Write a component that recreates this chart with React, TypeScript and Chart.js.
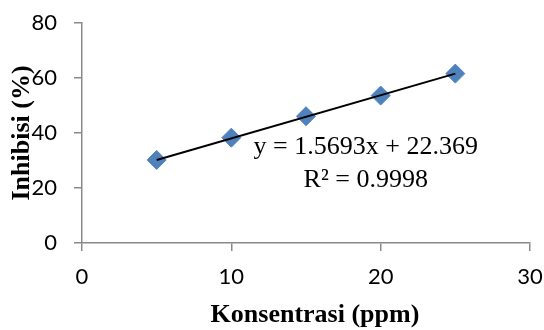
import React, { useEffect, useRef } from "react";
import { Chart, registerables } from "chart.js";

Chart.register(...registerables);

const concentrations = [5, 10, 15, 20, 25];
const inhibition = [30.2, 38.3, 46.1, 53.6, 61.6];
const trendX = [5, 25];
const trendY = [30.2, 61.6];
const equationText = "y = 1.5693x + 22.369";
const r2Text = "R² = 0.9998";
const xTitle = "Konsentrasi (ppm)";
const yTitle = "Inhibisi (%)";

const axisGray = "#898989";
const tickFont = { family: "Lato, 'Liberation Sans', sans-serif", size: 22 };
const titleFont = { family: "'Liberation Serif', 'Times New Roman', serif", size: 26, weight: "bold" as const };

const annotationPlugin = {
  id: "eqLabel",
  afterDatasetsDraw(chart: any) {
    const { ctx, scales } = chart;
    const xs = scales.x;
    const ys = scales.y;
    ctx.save();
    ctx.fillStyle = "#000";
    ctx.font = "26px 'Liberation Serif', 'Times New Roman', serif";
    ctx.textAlign = "center";
    ctx.textBaseline = "middle";
    ctx.fillText(equationText, xs.getPixelForValue(19.0), ys.getPixelForValue(34.9));
    ctx.fillText(r2Text, xs.getPixelForValue(19.0), ys.getPixelForValue(22.9));
    ctx.font = "bold 26px 'Liberation Serif', 'Times New Roman', serif";
    ctx.textBaseline = "alphabetic";
    ctx.fillText(xTitle, xs.getPixelForValue(15.6), chart.height - 8);
    ctx.restore();
  },
};

const zeroPad = (s: any) => {
  s.paddingLeft = 0;
  s.paddingRight = 0;
  s.paddingTop = 0;
  s.paddingBottom = 0;
};

export default function App() {
  const canvasRef = useRef<HTMLCanvasElement | null>(null);

  useEffect(() => {
    const canvas = canvasRef.current;
    if (!canvas) return;
    const chart = new Chart(canvas, {
      type: "scatter",
      data: {
        datasets: [
          {
            label: "Trend",
            type: "line",
            data: trendX.map((x, i) => ({ x, y: trendY[i] })),
            borderColor: "#000",
            borderWidth: 2,
            pointRadius: 0,
            fill: false,
            order: 1,
          } as any,
          {
            label: "Inhibisi",
            data: concentrations.map((x, i) => ({ x, y: inhibition[i] })),
            pointStyle: "rectRot",
            pointRadius: 9.5,
            pointHoverRadius: 9.5,
            backgroundColor: "#4F81BD",
            borderColor: "#4F81BD",
            borderWidth: 1,
            order: 2,
          },
        ],
      },
      options: {
        animation: false,
        responsive: false,
        maintainAspectRatio: false,
        layout: { padding: { left: 0, top: 23, right: 14, bottom: 0 } },
        plugins: {
          legend: { display: false },
          tooltip: { enabled: false },
        },
        scales: {
          x: {
            type: "linear",
            min: 0,
            max: 30,
            ticks: { stepSize: 10, color: "#000", font: tickFont, padding: 13 },
            grid: { drawOnChartArea: false, drawTicks: true, tickLength: 8, color: axisGray, lineWidth: 1.5 },
            border: { color: axisGray, width: 1.5 },
            title: { display: false },
            afterFit: (s: any) => { s.height = 87; zeroPad(s); },
          },
          y: {
            type: "linear",
            min: 0,
            max: 80,
            ticks: { stepSize: 20, color: "#000", font: tickFont, padding: 17 },
            grid: { drawOnChartArea: false, drawTicks: true, tickLength: 8, color: axisGray, lineWidth: 1.5 },
            border: { color: axisGray, width: 1.5 },
            title: { display: true, text: yTitle, color: "#000", font: titleFont, padding: { top: 7, bottom: 0 } },
            afterFit: (s: any) => { s.width = 82; zeroPad(s); },
          },
        },
      },
      plugins: [annotationPlugin],
    });
    return () => chart.destroy();
  }, []);

  return (
    <div style={{ position: "fixed", left: 0, top: 0, width: 544, height: 330, background: "#fff" }}>
      <canvas ref={canvasRef} width={544} height={330} style={{ width: 544, height: 330 }} />
    </div>
  );
}
